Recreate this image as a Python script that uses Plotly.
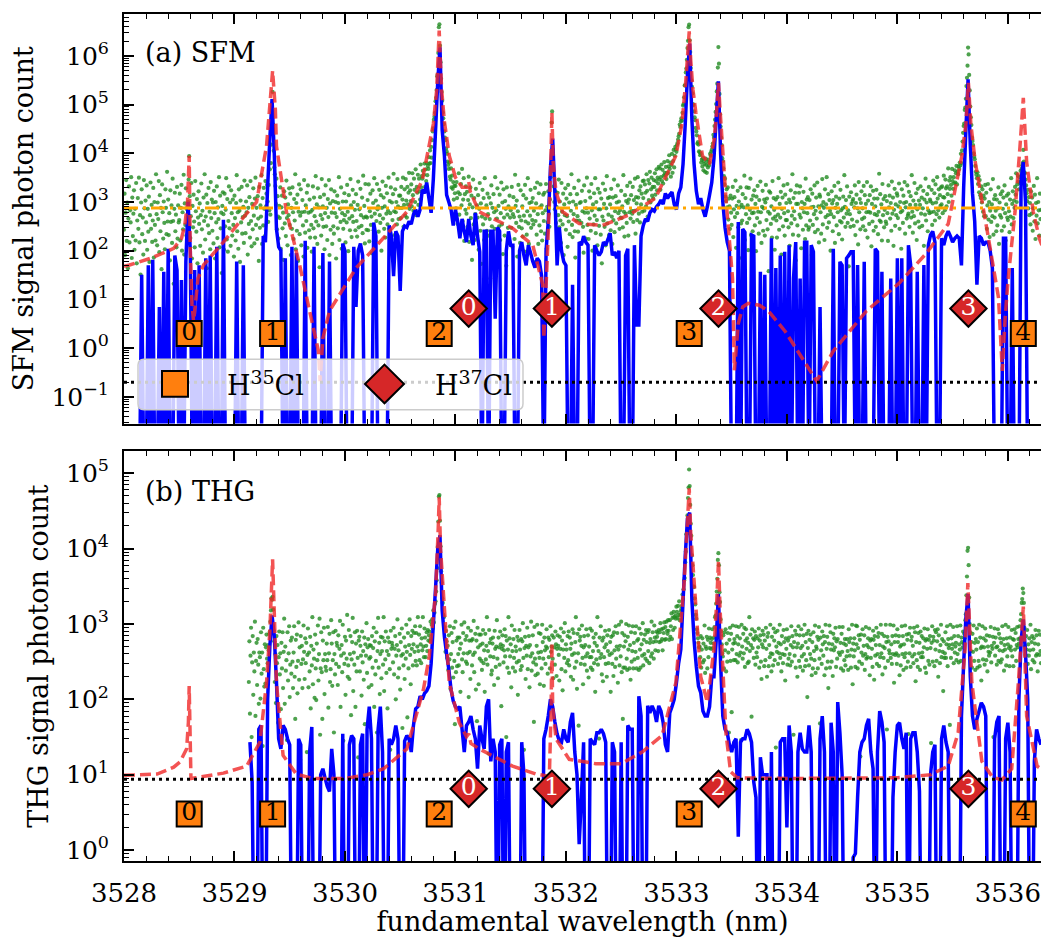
import plotly.graph_objects as go

# ------------------------------------------------------------------ data
X_RANGE = [3528.0, 3536.30]

# raw scans (green dots): one row per 0.1 nm, samples 0.005 nm apart,
# values are 100*log10(photon count)
RAW_STEP = 0.005
SFM_RAW_START = 3528.00
SFM_RAW_LOG10X100 = """
243 317 191 278 345 220 299 164 266 332 217 283 258 351 185 309 230 276 324 202
286 221 339 174 262 308 245 350 217 273 151 299 326 234 268 192 345 287 220 303
258 334 202 286 239 311 177 273 340 245 294 218 262 329 186 300 253 221 357 275
211 299 265 343 197 314 240 288 162 336 279 225 301 257 203 326 288 234 362 260
305 232 277 180 324 259 293 216 348 261 132 286 319 240 274 207 331 225 293 258
263 317 221 288 335 200 279 244 356 192 297 253 328 231 285 219 300 346 394 312
226 271 339 184 292 248 315 260 207 343 281 239 306 174 268 322 255 297 210 273
338 244 282 196 309 261 357 223 270 315 164 298 252 329 236 280 203 341 267 305
241 299 215 323 277 184 300 258 332 226 289 265 351 207 313 246 278 154 292 320
275 202 317 250 284 349 223 306 198 261 332 246 299 210 324 277 231 305 253 188
313 267 221 298 355 240 279 204 326 282 177 303 258 331 235 269 290 216 344 272
236 301 279 334 192 288 255 310 227 343 261 209 296 244 328 272 215 307 350 253
288 224 312 266 179 331 247 293 270 355 214 308 252 329 286 230 343 291 317 335
301 259 335 283 367 274 380 418 472 526 459 405 371 357 333 296 348 244 312 270
225 292 267 330 204 289 313 246 278 181 322 256 309 230 344 267 211 295 273 328
253 317 191 288 245 330 279 224 306 262 357 203 298 241 315 179 280 336 234 272
326 211 279 304 252 188 345 280 237 293 261 319 206 334 278 242 305 227 280 253
198 284 332 246 309 271 227 353 260 295 214 328 252 289 166 310 273 231 347 265
291 249 315 203 277 334 250 288 222 306 269 345 191 297 243 326 278 214 302 250
235 322 277 300 184 269 313 246 298 351 222 286 259 330 204 277 301 245 263 318
273 217 301 258 335 280 199 314 266 242 347 293 228 271 325 259 300 176 284 242
316 261 229 294 342 248 285 200 327 273 251 309 236 354 268 292 215 337 270 243
268 304 242 336 219 281 317 253 270 195 324 298 242 349 276 220 303 261 337 285
291 239 325 273 257 314 200 288 342 266 309 245 291 227 333 276 318 254 282 350
245 302 277 330 224 299 263 316 358 281 232 326 279 300 254 347 291 265 313 288
313 267 331 288 305 350 249 294 326 272 347 303 268 331 295 319 360 286 324 302
336 291 359 314 282 348 325 300 367 273 331 319 356 294 348 322 305 377 330 353
348 364 322 356 379 331 367 343 380 355 374 368 392 379 406 380 413 391 427 445
451 469 475 483 507 514 530 558 562 606 659 665 621 587 553 526 508 484 472 460
445 432 427 410 404 399 383 376 368 381 352 346 369 330 354 327 341 305 333 318
333 287 341 308 255 320 359 274 316 242 337 293 368 261 305 349 220 316 284 332
276 321 249 304 352 218 295 330 267 313 181 289 346 254 308 222 275 327 240 293
268 314 202 286 339 241 297 173 270 325 254 308 222 349 266 190 293 241 317 275
231 309 265 143 297 334 250 288 212 316 279 245 351 207 283 266 328 184 292 250
315 222 277 340 254 299 193 326 268 231 302 286 169 330 274 247 291 215 313 268
283 247 331 208 275 310 269 224 356 292 257 303 188 281 335 249 270 216 324 262
246 291 229 314 272 198 335 260 307 233 281 349 256 214 298 272 325 247 300 263
308 254 282 176 329 261 297 233 340 275 214 318 252 289 336 240 293 221 277 315
261 319 235 283 337 204 290 258 322 276 249 305 351 377 463 486 408 364 332 300
285 322 257 290 224 319 273 346 248 301 262 216 339 280 254 317 191 295 273 328
243 307 271 208 335 260 299 234 316 282 357 253 228 301 275 329 240 186 294 262
316 271 239 344 262 298 215 300 257 323 281 249 196 334 278 302 225 287 350 253
278 224 322 266 309 241 337 283 200 295 254 318 272 349 236 300 263 211 327 285
251 319 285 233 307 174 270 338 262 296 249 325 211 287 353 256 308 274 232 310
295 242 327 270 214 309 263 346 238 281 312 256 299 190 334 277 301 245 283 268
323 267 291 248 355 280 229 314 276 302 257 333 298 231 305 279 340 266 314 282
276 331 259 304 282 348 235 310 297 263 351 309 276 324 258 332 295 317 280 343
308 344 282 336 319 291 357 323 270 345 304 338 362 299 326 350 313 331 307 345
331 359 315 343 367 324 350 338 372 346 369 325 351 377 343 366 338 354 382 360
355 372 347 360 384 359 373 396 368 381 352 376 399 360 384 407 371 395 413 408
403 417 421 428 435 440 459 454 466 472 467 483 498 501 515 539 540 566 574 592
616 631 659 664 632 608 575 550 537 523 501 499 486 474 468 452 445 437 420 423
418 404 402 396 399 381 387 373 390 365 384 378 362 389 376 360 383 371 387 375
381 399 395 403 407 414 420 438 432 456 469 485 501 527 543 576 618 584 522 480
455 432 417 390 384 369 353 336 348 311 302 326 289 330 264 307 291 245 313 278
253 307 331 228 285 310 269 344 206 292 277 323 248 301 185 289 330 256 294 262
316 241 289 354 222 308 275 330 257 293 201 329 266 284 348 232 305 277 240 313
278 324 252 296 199 311 267 333 280 235 304 258 342 279 216 290 323 241 287 305
231 299 335 263 307 244 280 158 322 276 319 255 291 227 343 266 308 284 202 270
305 262 227 310 274 349 243 296 268 321 192 286 309 250 334 277 231 315 263 298
263 337 281 248 305 210 299 324 256 272 357 233 308 281 265 319 180 296 334 252
296 231 319 274 332 268 205 300 287 243 321 279 296 224 348 252 305 277 310 243
248 304 262 326 289 191 317 253 290 275 334 238 282 309 266 340 243 291 217 315
311 279 235 293 347 254 300 288 222 326 269 295 351 247 273 316 258 304 282 200
275 322 297 240 304 269 333 216 288 311 252 296 279 340 234 307 261 325 283 258
223 287 311 268 355 290 249 304 276 332 257 283 168 311 275 249 320 296 264 302
306 251 289 334 232 298 315 260 287 213 341 279 306 244 298 322 265 287 250 333
268 314 242 296 279 341 227 303 280 255 314 278 332 209 296 260 323 241 307 275
291 249 325 273 307 234 280 358 262 316 259 295 221 337 273 306 248 284 312 260
255 302 277 220 334 289 313 266 298 241 342 276 309 210 284 327 251 295 273 318
313 267 291 338 245 300 279 204 326 282 257 313 298 341 235 289 300 266 334 272
276 321 249 294 312 268 355 280 237 303 271 339 256 294 318 222 285 327 260 303
248 294 332 276 309 251 287 323 210 305 274 348 262 299 316 240 283 331 277 305
301 279 325 253 297 344 280 318 262 336 299 275 351 307 283 326 268 314 292 330
295 332 277 310 354 309 283 346 328 291 332 316 369 300 344 327 351 335 313 368
343 327 351 338 365 340 359 374 336 362 357 373 368 381 375 399 380 406 424 442
456 461 489 494 512 538 555 580 617 603 561 529 496 474 458 432 425 417 400 393
388 374 362 356 349 361 337 353 320 345 314 308 332 299 326 280 313 271 307 335
271 319 245 293 337 264 300 228 282 326 259 295 271 347 233 306 268 314 282 240
305 252 287 330 214 299 273 316 268 241 322 286 309 250 334 277 221 295 313 268
263 317 281 238 305 270 349 254 296 322 267 303 288 331 315 359 300 336 354 342
326 351 339 364 342 368 375 380 407 383 361 359 346 334 318 302 325 287 310 273
298 254 322 276 309 241 287 333 260 315 224 298 272 349 256 300 283 231 317 265
284
"""

THG_RAW_START = 3529.13
THG_RAW_LOG10X100 = """
223 277 181 258 295 150 249 284 206 262 237 303 178 251 275 219 280 246 194 262
256 201 289 234 262 138 295 240 217 273 221 269 286 254 248 272 265 287 290 303
318 334 332 336 319 291 277 223 260 195 284 248 272 169 256 290 233 261 187 275
241 289 215 263 307 194 270 238 252 146 289 225 261 297 203 246 278 234 282 250
215 262 297 230 174 279 243 286 208 251 302 226 269 120 284 247 271 215 253 298
263 227 281 248 275 130 259 294 216 262 237 283 188 271 245 309 220 266 254 202
286 241 199 274 252 298 225 260 307 153 241 289 236 174 278 252 295 207 260 243
238 274 252 296 189 261 287 223 240 305 274 218 252 289 156 260 233 291 247 275
271 219 285 243 267 304 190 258 272 236 299 145 261 247 283 206 278 254 312 230
245 292 227 260 284 179 253 276 308 211 262 246 289 190 274 237 291 255 123 278
283 237 271 258 205 290 249 264 226 282 167 273 258 301 235 269 280 216 254 272
256 271 219 284 242 268 295 190 277 233 251 289 156 264 308 242 275 207 260 283
228 264 282 246 309 211 277 253 290 235 264 188 282 259 276 240 133 291 267 275
271 249 295 233 267 284 200 258 272 306 229 265 241 287 213 276 258 294 162 260
245 282 227 270 254 299 263 176 288 241 272 306 259 220 284 267 291 245 273 288
263 297 251 288 245 270 309 264 286 252 297 273 248 281 265 309 270 256 294 282
256 271 289 264 292 278 285 290 277 303 281 299 306 294 318 302 315 327 330 343
358 374 402 436 469 471 437 403 370 355 334 328 312 309 296 280 263 291 277 255
271 239 285 253 297 214 260 288 242 276 229 295 251 167 303 236 278 244 282 260
245 282 267 210 274 299 253 236 288 261 302 146 279 250 284 247 261 295 203 278
263 227 291 278 245 280 259 304 236 262 287 213 278 171 295 269 220 286 254 272
286 251 239 274 292 248 265 210 287 253 271 309 246 264 128 292 275 257 280 233
238 274 282 256 219 291 267 243 270 305 254 228 282 269 246 290 273 191 267 285
271 249 265 293 257 284 150 278 242 266 309 235 281 257 273 216 298 264 242 280
255 292 237 270 264 249 283 206 278 251 292 266 239 280 244 277 301 255 133 268
283 227 271 258 295 240 269 284 216 272 257 303 238 261 285 249 170 296 254 232
246 271 299 234 262 288 255 220 287 263 241 299 276 254 218 282 265 247 270 293
268 234 282 256 279 241 297 263 270 285 254 228 282 269 246 290 273 231 267 285
271 259 225 283 267 294 240 278 212 266 289 255 301 237 273 266 248 284 252 290
245 282 267 230 274 259 293 226 288 261 242 276 309 250 214 287 261 165 293 278
283 247 271 298 255 220 269 284 246 272 257 293 238 261 285 229 270 256 294 242
256 291 239 264 282 248 275 210 287 253 271 309 246 264 148 282 255 297 260 233
278 224 282 256 269 291 247 273 230 285 264 248 292 259 276 210 283 261 247 285
231 289 265 243 297 254 270 288 222 266 299 245 271 257 303 236 288 174 242 270
285 242 277 300 254 239 283 266 298 241 272 226 289 250 264 297 241 275 253 288
263 297 241 278 255 280 239 294 266 242 287 273 258 301 245 279 260 286 254 292
276 251 289 264 292 248 275 280 257 303 261 289 276 254 298 282 265 277 290 283
288 264 292 276 289 301 277 293 280 265 294 288 302 279 296 280 303 291 287 305
291 279 305 283 297 314 280 308 292 316 309 295 311 307 323 316 308 324 312 330
305 312 317 320 324 339 333 346 358 361 382 396 419 420 444 467 481 505 483 458
433 417 391 378 365 350 349 334 326 312 307 293 288 281 275 269 270 256 284 242
266 281 249 274 252 298 235 270 267 283 241 279 256 294 268 282 275 267 280 293
268 274 282 296 309 311 327 343 360 385 394 378 342 329 306 290 273 261 257 285
241 289 265 293 237 274 250 288 262 156 279 295 251 287 183 266 298 274 252 280
275 252 297 260 284 249 273 296 258 281 262 146 299 270 254 287 261 295 243 278
293 267 281 248 275 250 309 264 286 272 177 293 268 281 255 279 290 246 284 262
256 281 269 294 242 278 285 250 227 273 291 269 286 244 278 252 295 267 230 283
288 244 272 256 299 261 237 283 260 245 294 278 252 289 136 270 263 291 247 275
261 299 255 273 237 284 260 248 292 276 259 225 281 267 293 246 278 254 282 260
245 272 297 250 284 269 153 276 258 291 242 286 269 230 274 297 251 285 243 268
293 257 271 238 285 260 299 244 276 252 287 203 268 291 245 279 260 286 254 232
276 241 289 264 252 298 235 270 267 283 241 279 296 254 168 282 265 247 290 273
258 284 232 276 299 241 267 283 250 215 274 298 242 289 266 250 273 231 287 265
281 269 295 243 277 254 280 148 262 296 259 275 241 287 263 296 238 274 252 280
245 272 257 280 264 239 293 276 258 281 242 266 299 220 274 257 281 265 243 298
273 297 241 268 285 250 279 124 286 262 247 293 258 271 285 239 260 296 254 272
256 281 269 294 232 278 255 280 267 243 291 279 226 284 258 272 295 247 260 283
288 244 272 256 299 261 287 233 270 255 284 268 242 299 276 160 283 251 277 265
261 299 255 273 247 284 260 298 222 276 259 285 261 247 293 276 258 284 232 270
245 272 297 260 284 239 273 256 298 261 242 286 279 250 154 287 261 295 243 278
283 257 271 248 295 260 289 224 276 252 297 243 288 261 275 239 290 256 284 262
256 281 269 294 242 278 235 280 267 293 251 279 246 284 268 142 275 297 250 283
278 244 292 266 289 251 277 293 230 285 264 248 272 299 256 280 263 211 277 255
261 289 255 273 297 244 280 268 272 166 299 255 281 267 273 296 248 284 262 270
275 252 297 260 284 249 273 266 298 251 282 276 269 290 274 287 281 305 313 338
363 397 401 378 335 300 289 264 276 242 287 263 298 251 275 239 280 266 294 242
276 251 299 244 282 268 225 270 297 253 281 269 246 294 278 252 285 237 270 263
258 284 262 296 249 271 267 283 150 275 294 258 282 269 246 270 293 251 287 265
281 249 275 253 297 264 280 238 272 266 299 245 281 257 273 296 268 244 282 270
265 292 257 280 244 279 293 266 288 251 272 296 269 280 274 297 281 305 313 328
333 347 341 328 295 270 259 284 266 292 247 273 258 281 265 299 240 276 284 252
266 281 249 274 292 258 285 260 237 273 291 259 286 264 248 272 285 257 290 263
"""

# smoothed signal (blue): one row per 0.2 nm, samples 0.02 nm apart, photon counts
SMOOTH_STEP = 0.02
SFM_SMOOTH_START = 3528.10
SFM_SMOOTH = [
    [0, 0, 0, 32, 0, 0, 50, 0, 65, 0],
    [0, 7, 0, 37, 0, 110, 0, 0, 80, 40],
    [0, 25, 0, 60, 1000, 100, 0, 40, 0, 50],
    [0, 0, 70, 0, 80, 0, 0, 120, 0, 0],
    [430, 0, 0, 0, 0, 0, 60, 0, 0, 50],
    [0, 0, 0, 0, 0, 0, 0, 0, 200, 150],
    [2000, 20000, 130000, 10000, 280, 120, 100, 0, 70, 0],
    [0, 120, 0, 90, 0, 0, 0, 160, 0, 0],
    [0, 120, 0, 0, 0, 90, 0, 0, 60, 0],
    [0, 0, 0, 0, 140, 100, 0, 0, 0, 120],
    [7, 100, 140, 80, 0, 0, 0, 0, 380, 200],
    [0, 0, 0, 0, 0, 330, 200, 30, 250, 200],
    [15, 250, 320, 300, 400, 350, 550, 700, 500, 700],
    [1800, 1500, 2500, 1200, 600, 3000, 30000, 300000, 1500000, 30000],
    [9000, 1400, 1000, 700, 330, 700, 400, 180, 450, 250],
    [150, 450, 200, 130, 600, 200, 95, 0, 250, 250],
    [0, 250, 250, 4, 300, 250, 0, 0, 100, 250],
    [130, 130, 0, 0, 100, 150, 80, 50, 130, 90],
    [60, 45, 70, 60, 30, 0, 100, 400, 5000, 20000],
    [1500, 50, 300, 100, 60, 50, 0, 0, 20, 0],
    [0, 150, 130, 200, 150, 130, 0, 0, 130, 100],
    [80, 95, 150, 130, 170, 230, 80, 95, 70, 100],
    [0, 0, 80, 110, 0, 0, 130, 3, 3, 200],
    [330, 450, 400, 600, 700, 650, 800, 900, 1100, 900],
    [1500, 1200, 1400, 1600, 900, 700, 1500, 2000, 6000, 40000],
    [400000, 1800000, 50000, 6000, 1700, 900, 1200, 700, 500, 800],
    [1400, 2500, 8000, 50000, 300000, 10000, 1000, 300, 150, 100],
    [0, 0, 0, 390, 0, 280, 240, 0, 0, 210],
    [200, 0, 0, 37, 0, 32, 0, 0, 180, 0],
    [44, 0, 80, 0, 95, 0, 130, 0, 27, 150],
    [0, 27, 0, 150, 150, 0, 130, 95, 0, 0],
    [7, 0, 0, 0, 0, 0, 110, 0, 0, 59],
    [50, 0, 70, 80, 95, 95, 0, 51, 0, 0],
    [59, 0, 0, 0, 0, 110, 95, 0, 37, 0],
    [0, 0, 27, 0, 0, 70, 0, 70, 0, 0],
    [130, 51, 0, 0, 37, 0, 0, 51, 0, 130],
    [210, 250, 150, 0, 0, 180, 130, 200, 250, 200],
    [150, 180, 200, 180, 50, 2000, 30000, 330000, 15000, 1500],
    [400, 20, 200, 180, 130, 150, 150, 100, 44, 0],
    [0, 0, 0, 180, 180, 0, 0, 44, 0, 0],
    [0, 3000, 6600, 1000, 0, 0, 0, 0, 0, 0],
    [0],
]

THG_SMOOTH_START = 3529.14
THG_SMOOTH = [
    [27, 8, 0, 0, 40, 45, 0, 0, 100, 500],
    [1300, 700, 170, 30, 22, 45, 40, 30, 25, 0],
    [0, 0, 30, 25, 0, 0, 0, 20, 43, 0],
    [0, 0, 10, 12, 9, 7, 6, 22, 10, 0],
    [0, 0, 35, 0, 0, 25, 33, 30, 0, 0],
    [25, 35, 0, 40, 80, 30, 0, 0, 40, 80],
    [20, 0, 0, 30, 25, 30, 45, 30, 0, 0],
    [28, 33, 30, 20, 45, 75, 80, 110, 100, 120],
    [130, 150, 300, 1000, 3000, 10000, 15000, 1500, 680, 400],
    [250, 135, 95, 80, 75, 80, 40, 20, 45, 50],
    [60, 40, 30, 12, 45, 30, 22, 80, 100, 15],
    [30, 20, 0, 25, 30, 0, 20, 27, 0, 0],
    [0, 0, 0, 27, 10, 0, 0, 0, 0, 0],
    [0, 0, 0, 30, 40, 60, 100, 80, 50, 35],
    [28, 27, 40, 30, 27, 50, 66, 20, 10, 1.2],
    [5, 27, 0, 0, 30, 27, 25, 36, 36, 40],
    [35, 27, 0, 0, 27, 20, 0, 0, 27, 0],
    [0, 45, 40, 40, 0, 0, 110, 60, 0, 0],
    [82, 66, 82, 70, 50, 82, 70, 49, 25, 20],
    [66, 80, 100, 165, 300, 460, 2000, 8000, 25000, 30000],
    [2100, 600, 275, 150, 123, 70, 60, 60, 80, 200],
    [200, 600, 2500, 300, 60, 40, 36, 25, 20, 27],
    [30, 1.5, 27, 30, 30, 40, 35, 27, 8, 5],
    [0, 17, 10, 10, 10, 0, 20, 0, 0, 0],
    [27, 30, 30, 2, 45, 20, 0, 0, 20, 36],
    [22, 20, 20, 45, 20, 0, 0, 0, 30, 60],
    [20, 0, 0, 49, 20, 0, 92, 36, 10, 0],
    [0, 0, 0, 0.8, 0.9, 5, 20, 27, 30, 45],
    [55, 20, 12, 0, 20, 70, 50, 27, 0, 0],
    [0, 5, 20, 45, 49, 30, 22, 36, 0, 30],
    [36, 36, 20, 6, 0, 0, 0, 0, 10, 20],
    [25, 0, 0, 30, 45, 27, 20, 0, 0, 0],
    [0, 0, 60, 300, 1200, 2500, 200, 60, 40, 55],
    [70, 90, 80, 60, 0, 0, 0, 30, 50, 60],
    [0, 0, 30, 49, 20, 0, 0, 0, 100, 600],
    [1150, 400, 100, 0, 0, 15, 40, 30, 25],
]

# fitted model (red dashed)
SFM_MODEL_NM = [3528.00, 3528.05, 3528.25, 3528.45, 3528.52, 3528.55, 3528.575, 3528.59, 3528.60,
                3528.615, 3528.63, 3528.67, 3528.72, 3528.90, 3529.05, 3529.20, 3529.29, 3529.32,
                3529.345, 3529.37, 3529.38, 3529.47, 3529.59, 3529.68, 3529.76, 3529.775, 3529.80,
                3529.86, 3529.985, 3530.10, 3530.29, 3530.56, 3530.70, 3530.76, 3530.80, 3530.83,
                3530.845, 3530.853, 3530.86, 3530.875, 3530.90, 3530.944, 3531.00, 3531.06, 3531.10,
                3531.12, 3531.135, 3531.215, 3531.517, 3531.70, 3531.79, 3531.80, 3531.83, 3531.86,
                3531.873, 3531.885, 3531.91, 3531.97, 3532.12, 3532.33, 3532.57, 3532.81, 3532.995,
                3533.05, 3533.086, 3533.105, 3533.116, 3533.13, 3533.15, 3533.176, 3533.236, 3533.30,
                3533.342, 3533.365, 3533.381, 3533.395, 3533.42, 3533.448, 3533.48, 3533.508, 3533.525,
                3533.56, 3533.60, 3533.65, 3533.75, 3533.833, 3533.985, 3534.136, 3534.27, 3534.42,
                3534.72, 3535.02, 3535.263, 3535.46, 3535.584, 3535.62, 3535.643, 3535.665, 3535.705,
                3535.825, 3535.915, 3535.95, 3535.975, 3536.003, 3536.065, 3536.11, 3536.14, 3536.17,
                3536.23, 3536.285, 3536.31]
SFM_MODEL = [48, 51, 71, 112, 178, 330, 1000, 8900, 100,
             8, 3.5, 27, 51, 150, 400, 1000, 14000, 79000,
             490000, 79000, 14000, 630, 51, 5.8, 0.87, 0.21, 1.6,
             5.8, 17, 44, 130, 630, 2800, 12600, 40000, 200000,
             1000000, 3300000, 1260000, 200000, 45000, 8900, 3200, 2000, 2000,
             2600, 1600, 630, 290, 130, 20, 1.6, 63, 3200,
             69000, 6300, 1600, 630, 360, 330, 540, 1200, 8900,
             40000, 330000, 1600000, 3200000, 800000, 200000, 69000, 8900, 6000,
             19500, 79000, 280000, 79000, 7900, 1200, 160, 27, 0.35,
             3.2, 7, 8.3, 7.6, 5.8, 2.2, 0.63, 0.21, 0.87,
             5.8, 22, 89, 355, 8900, 40000, 280000, 40000, 6600,
             178, 11, 0.34, 4, 27, 630, 14000, 138000, 6600,
             630, 178, 126]

THG_MODEL_NM = [3528.00, 3528.30, 3528.45, 3528.507, 3528.567, 3528.583, 3528.59, 3528.597, 3528.606,
                3528.65, 3528.90, 3529.11, 3529.23, 3529.29, 3529.32, 3529.345, 3529.36, 3529.38,
                3529.44, 3529.56, 3529.71, 3530.00, 3530.20, 3530.35, 3530.56, 3530.71, 3530.763,
                3530.82, 3530.845, 3530.853, 3530.865, 3530.899, 3530.944, 3531.035, 3531.10, 3531.12,
                3531.14, 3531.215, 3531.517, 3531.73, 3531.85, 3531.865, 3531.873, 3531.88, 3531.91,
                3532.03, 3532.27, 3532.50, 3532.69, 3532.87, 3532.995, 3533.07, 3533.10, 3533.116,
                3533.13, 3533.16, 3533.22, 3533.28, 3533.34, 3533.365, 3533.381, 3533.395, 3533.42,
                3533.448, 3533.49, 3533.55, 3534.00, 3535.00, 3535.30, 3535.46, 3535.55, 3535.613,
                3535.638, 3535.655, 3535.674, 3535.765, 3535.86, 3535.945, 3536.035, 3536.095, 3536.14,
                3536.17, 3536.265, 3536.31]
THG_MODEL = [9.8, 10.2, 12.6, 14.8, 22, 50, 150, 32, 8.9,
             9.1, 10.5, 13, 27, 166, 800, 7200, 1000, 166,
             18, 10.2, 8.9, 8.9, 10, 12, 22, 135, 370,
             2500, 20000, 48000, 10000, 1500, 166, 49, 32, 35,
             26, 22, 13, 10.2, 9.5, 63, 560, 79, 30,
             16, 14, 14, 20, 33, 166, 3500, 20000, 63000,
             16000, 3500, 200, 91, 460, 2000, 6900, 1600, 250,
             36, 11, 9.1, 8.9, 9.1, 10, 13, 36, 460,
             3500, 630, 166, 15, 9.3, 8.5, 12, 166, 1700,
             60, 13, 11.7]

SFM_BACKGROUND = 750      # orange dash-dot level
SFM_NOISE_FLOOR = 0.2     # black dotted level (a)
THG_NOISE_FLOOR = 8.7     # black dotted level (b)

H35CL_NM = [3528.59, 3529.345, 3530.853, 3533.116, 3536.14]
H35CL_LABELS = ["0", "1", "2", "3", "4"]
H37CL_NM = [3531.12, 3531.873, 3533.381, 3535.643]
H37CL_LABELS = ["0", "1", "2", "3"]
SFM_LABEL_Y = {"H35": 2.0, "H37": 6.5}
THG_LABEL_Y = {"H35": 3.0, "H37": 6.5}

# ------------------------------------------------------------------ helpers
FONT = "DejaVu Serif"
W, H = 1041, 937
ML, MR, MT, MB = 124, 0, 14, 69
PW, PH = W - ML - MR, H - MT - MB
ORANGE = "#ff7f0e"
RED = "#d62728"


def px_x(p):
    return (p - ML) / PW


def px_y(p):
    return (H - MB - p) / PH


def raw_points(start, text):
    xs, ys = [], []
    for r, line in enumerate(text.strip().splitlines()):
        for j, v in enumerate(line.split()):
            xs.append(start + 0.1 * r + RAW_STEP * j)
            ys.append(10 ** (int(v) / 100.0))
    return xs, ys


def smooth_points(start, rows, floor):
    xs, ys = [], []
    for r, row in enumerate(rows):
        for j, v in enumerate(row):
            xs.append(start + 0.2 * r + SMOOTH_STEP * j)
            ys.append(v if v > 0 else floor)
    return xs, ys


def log_axis(rng, lo, hi, title, domain):
    vals = [10.0 ** k for k in range(lo, hi + 1)]
    text = ["10<sup>%s</sup>" % (str(k) if k >= 0 else "\u2212%d" % -k) for k in range(lo, hi + 1)]
    minor = [m * 10.0 ** k for k in range(lo - 1, hi + 1) for m in range(2, 10)]
    return dict(type="log", range=rng, domain=domain, tickvals=vals, ticktext=text,
                ticks="inside", ticklen=10, tickwidth=1.5, tickcolor="black",
                minor=dict(tickvals=minor, ticks="inside", ticklen=5, tickwidth=1.2, tickcolor="black"),
                showline=True, linecolor="black", linewidth=2, mirror=False,
                showgrid=False, zeroline=False,
                tickfont=dict(family=FONT, size=25, color="black"), ticklabelstandoff=8,
                title=dict(text=title, font=dict(family=FONT, size=27, color="black"), standoff=10))


def lin_x(anchor, labels, title=None):
    major = list(range(3528, 3537))
    minor = [round(3528 + 0.2 * i, 1) for i in range(42) if i % 5]
    d = dict(range=X_RANGE, domain=[0, 1], anchor=anchor, tickvals=major,
             ticktext=[str(v) for v in major], ticks="inside", ticklen=10, tickwidth=1.5,
             tickcolor="black",
             minor=dict(tickvals=minor, ticks="inside", ticklen=5, tickwidth=1.2, tickcolor="black"),
             showline=True, linecolor="black", linewidth=2, mirror="allticks",
             showgrid=False, zeroline=False, showticklabels=labels,
             tickfont=dict(family=FONT, size=26, color="black"), ticklabelstandoff=8)
    if title:
        d["title"] = dict(text=title, font=dict(family=FONT, size=27, color="black"), standoff=10)
    return d


fig = go.Figure()


def add_panel(xa, ya, raw, smooth, model_x, model_y, levels, label_y):
    gx, gy = raw
    fig.add_trace(go.Scatter(x=gx, y=gy, mode="markers", xaxis=xa, yaxis=ya,
                             marker=dict(size=4.2, color="rgba(34,139,34,0.8)", line=dict(width=0))))
    bx, by = smooth
    fig.add_trace(go.Scatter(x=bx, y=by, mode="lines", xaxis=xa, yaxis=ya,
                             line=dict(color="#0000ff", width=3.5, simplify=False)))
    fig.add_trace(go.Scatter(x=model_x, y=model_y, mode="lines", xaxis=xa, yaxis=ya,
                             line=dict(color="rgba(240,40,40,0.8)", width=3.5, dash="11px,5px")))
    for val, color, dash in levels:
        fig.add_trace(go.Scatter(x=X_RANGE, y=[val, val], mode="lines", xaxis=xa, yaxis=ya,
                                 line=dict(color=color, width=3, dash=dash)))
    fig.add_trace(go.Scatter(x=H35CL_NM, y=[label_y["H35"]] * len(H35CL_NM), mode="markers+text",
                             xaxis=xa, yaxis=ya, text=H35CL_LABELS, textposition="middle center",
                             marker=dict(symbol="square", size=25, color=ORANGE,
                                         line=dict(color="black", width=2)),
                             textfont=dict(family=FONT, size=25, color="black"), cliponaxis=False))
    fig.add_trace(go.Scatter(x=H37CL_NM, y=[label_y["H37"]] * len(H37CL_NM), mode="markers+text",
                             xaxis=xa, yaxis=ya, text=H37CL_LABELS, textposition="middle center",
                             marker=dict(symbol="diamond", size=28, color=RED,
                                         line=dict(color="black", width=2)),
                             textfont=dict(family=FONT, size=25, color="white"), cliponaxis=False))


add_panel("x", "y", raw_points(SFM_RAW_START, SFM_RAW_LOG10X100),
          smooth_points(SFM_SMOOTH_START, SFM_SMOOTH, 1e-3), SFM_MODEL_NM, SFM_MODEL,
          [(SFM_BACKGROUND, "#ffa500", "14px,5px,3px,5px"), (SFM_NOISE_FLOOR, "black", "3px,4px")],
          SFM_LABEL_Y)
add_panel("x2", "y2", raw_points(THG_RAW_START, THG_RAW_LOG10X100),
          smooth_points(THG_SMOOTH_START, THG_SMOOTH, 1e-2), THG_MODEL_NM, THG_MODEL,
          [(THG_NOISE_FLOOR, "black", "3px,4px")], THG_LABEL_Y)


# ------------------------------------------------------------------ legend (drawn as shapes)
def rounded_rect(x0, y0, x1, y1, r):
    def P(x, y):
        return "%.5f,%.5f" % (px_x(x), px_y(y))
    return ("M%s L%s Q%s %s L%s Q%s %s L%s Q%s %s L%s Q%s %s Z" % (
        P(x0 + r, y0), P(x1 - r, y0), P(x1, y0), P(x1, y0 + r), P(x1, y1 - r), P(x1, y1),
        P(x1 - r, y1), P(x0 + r, y1), P(x0, y1), P(x0, y1 - r), P(x0, y0 + r), P(x0, y0),
        P(x0 + r, y0)))


LEG_Y = 387
shapes = [
    dict(type="path", xref="paper", yref="paper", path=rounded_rect(138, 362, 523, 413, 6),
         fillcolor="rgba(255,255,255,0.8)", line=dict(color="rgba(204,204,204,1)", width=1.5),
         layer="above"),
    dict(type="rect", xref="paper", yref="paper", x0=px_x(162), x1=px_x(188),
         y0=px_y(LEG_Y + 13), y1=px_y(LEG_Y - 13), fillcolor=ORANGE,
         line=dict(color="black", width=2), layer="above"),
    dict(type="path", xref="paper", yref="paper",
         path="M%.5f,%.5f L%.5f,%.5f L%.5f,%.5f L%.5f,%.5f Z" % (
             px_x(384.5), px_y(LEG_Y - 19.5), px_x(404), px_y(LEG_Y),
             px_x(384.5), px_y(LEG_Y + 19.5), px_x(365), px_y(LEG_Y)),
         fillcolor=RED, line=dict(color="black", width=2), layer="above"),
]

annotations = [
    dict(text="H<sup>35</sup>Cl", x=px_x(225), y=px_y(LEG_Y), xref="paper", yref="paper",
         xanchor="left", yanchor="middle", showarrow=False,
         font=dict(family=FONT, size=27, color="black")),
    dict(text="H<sup>37</sup>Cl", x=px_x(433), y=px_y(LEG_Y), xref="paper", yref="paper",
         xanchor="left", yanchor="middle", showarrow=False,
         font=dict(family=FONT, size=27, color="black")),
    dict(text="(a) SFM", x=px_x(143), y=px_y(53), xref="paper", yref="paper",
         xanchor="left", yanchor="middle", showarrow=False,
         font=dict(family=FONT, size=27, color="black")),
    dict(text="(b) THG", x=px_x(143), y=px_y(495), xref="paper", yref="paper",
         xanchor="left", yanchor="middle", showarrow=False,
         font=dict(family=FONT, size=27, color="black")),
]

fig.update_layout(
    width=W, height=H, margin=dict(l=ML, r=MR, t=MT, b=MB),
    plot_bgcolor="white", paper_bgcolor="white", showlegend=False,
    xaxis=lin_x("y", False),
    xaxis2=lin_x("y2", True, "fundamental wavelength (nm)"),
    yaxis=log_axis([-1.55, 6.86], -1, 6, "SFM signal photon count", [px_y(427), 1.0]),
    yaxis2=log_axis([-0.145, 5.29], 0, 5, "THG signal photon count", [0.0, px_y(455)]),
    shapes=shapes, annotations=annotations,
)

fig.write_html("out.html")
